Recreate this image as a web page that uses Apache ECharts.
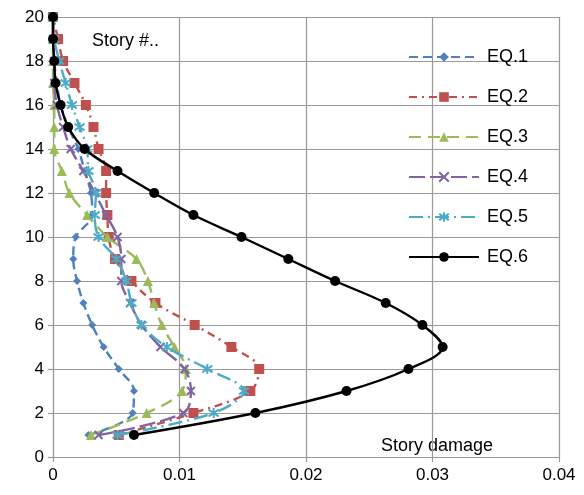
<!DOCTYPE html>
<html>
<head>
<meta charset="utf-8">
<script src="https://cdn.jsdelivr.net/npm/echarts@6/dist/echarts.min.js"></script>
<style>
  html, body { margin: 0; padding: 0; background: #fff; }
  #chart { width: 584px; height: 495px; }
</style>
</head>
<body>
<div id="chart"></div>
<script>
// story numbers, bottom to top
const stories = [1, 2, 3, 4, 5, 6, 7, 8, 9, 10, 11, 12, 13, 14, 15, 16, 17, 18, 19, 20];

// story damage per story
const eq1 = [0.0028, 0.0063, 0.0064, 0.0052, 0.0040, 0.0031, 0.0024, 0.0019, 0.0016, 0.0018,
             0.0031, 0.0030, 0.0025, 0.0020, 0.0012, 0.0006, 0.0003, 0.0001, 0, 0];
const eq2 = [0.0052, 0.0111, 0.0156, 0.0163, 0.0141, 0.0112, 0.0081, 0.0062, 0.0049, 0.0044,
             0.0043, 0.0042, 0.0042, 0.0036, 0.0032, 0.0026, 0.0017, 0.0008, 0.0004, 0];
const eq3 = [0.0030, 0.0074, 0.0102, 0.0105, 0.0096, 0.0086, 0.0080, 0.0075, 0.0066, 0.0043,
             0.0027, 0.0013, 0.0007, 0.0001, 0.0001, 0.0001, 0, 0, 0, 0];
const eq4 = [0.0036, 0.0103, 0.0109, 0.0104, 0.0085, 0.0070, 0.0061, 0.0054, 0.0054, 0.0051,
             0.0042, 0.0033, 0.0024, 0.0014, 0.0008, 0.0003, 0.0001, 0.0001, 0, 0];
const eq5 = [0.0051, 0.0127, 0.0151, 0.0122, 0.0090, 0.0070, 0.0062, 0.0058, 0.0050, 0.0036,
             0.0033, 0.0034, 0.0028, 0.0027, 0.0021, 0.0015, 0.0010, 0.0005, 0.0001, 0];
const eq6 = [0.0064, 0.0160, 0.0232, 0.0281, 0.0308, 0.0292, 0.0263, 0.0223, 0.0186, 0.0149,
             0.0111, 0.0080, 0.0051, 0.0025, 0.0012, 0.0006, 0.0002, 0.0001, 0, 0];

const seriesNames = ['EQ.1', 'EQ.2', 'EQ.3', 'EQ.4', 'EQ.5', 'EQ.6'];
const xTicks = [0, 0.01, 0.02, 0.03, 0.04];

const font = '"Liberation Sans", Arial, sans-serif';
const gridColor = '#999999';

const chart = echarts.init(document.getElementById('chart'), null, { renderer: 'canvas' });

const pairs = (vals) => vals.map((v, i) => [v, stories[i]]);

// Excel-ish look for each series
const styles = [
  { color: '#4F81BD', type: [9, 5], symbol: 'diamond', size: 8 },
  { color: '#C0504D', type: [8, 5, 2, 5], symbol: 'rect', size: 10 },
  { color: '#9BBB59', type: [12, 7], symbol: 'triangle', size: 10 },
  { color: '#8064A2', type: [16, 5], symbol: 'path://M0,0L10,10M10,0L0,10', size: 8, stroke: true },
  { color: '#4BACC6', type: [14, 5, 2, 5], symbol: 'path://M0,1L10,9M10,1L0,9M5,-1L5,11', size: 10, stroke: true },
  { color: '#000000', type: 'solid', symbol: 'circle', size: 10 },
];

const allData = [eq1, eq2, eq3, eq4, eq5, eq6];

const series = allData.map((vals, i) => {
  const s = styles[i];
  return {
    name: seriesNames[i],
    type: 'line',
    data: pairs(vals),
    smooth: 0.35,
    symbol: s.symbol,
    symbolSize: s.size,
    showAllSymbol: true,
    lineStyle: { color: s.color, width: 2.4, type: s.type },
    itemStyle: s.stroke
      ? { color: s.color, borderColor: s.color, borderWidth: 2 }
      : { color: s.color, borderWidth: 0 },
    emphasis: { disabled: true },
    z: 2 + i,
  };
});

const option = {
  animation: false,
  backgroundColor: '#ffffff',
  grid: { left: 53, right: 25, top: 17, bottom: 38, containLabel: false },
  xAxis: {
    type: 'value',
    min: 0,
    max: 0.04,
    interval: 0.01,
    axisLine: { show: true, lineStyle: { color: gridColor, width: 1.2 } },
    axisTick: { show: true, length: 5, lineStyle: { color: gridColor, width: 1.2 } },
    axisLabel: {
      color: '#000',
      fontFamily: font,
      fontSize: 17,
      margin: 10,
      formatter: (v) => {
        const t = xTicks.find((x) => Math.abs(x - v) < 1e-9);
        return t === undefined ? '' : String(t);
      },
    },
    splitLine: { show: true, lineStyle: { color: gridColor, width: 1.2 } },
  },
  yAxis: {
    type: 'value',
    min: 0,
    max: 20,
    interval: 2,
    axisLine: { show: true, onZero: false, lineStyle: { color: gridColor, width: 1.2 } },
    axisTick: { show: true, length: 5, lineStyle: { color: gridColor, width: 1.2 } },
    axisLabel: { color: '#000', fontFamily: font, fontSize: 17, margin: 9 },
    splitLine: { show: true, lineStyle: { color: gridColor, width: 1.2 } },
  },
  legend: {
    data: seriesNames,
    orient: 'vertical',
    left: 408,
    top: 47,
    padding: 0,
    itemWidth: 70,
    itemHeight: 12,
    itemGap: 20,
    textStyle: { color: '#000', fontFamily: font, fontSize: 18, lineHeight: 20, padding: [0, 0, 0, 3] },
  },
  graphic: [
    {
      type: 'text',
      left: 92,
      top: 32,
      style: { text: 'Story #..', fill: '#000', font: '18px ' + font },
    },
    {
      type: 'text',
      left: 381,
      top: 437,
      style: { text: 'Story damage', fill: '#000', font: '18px ' + font },
    },
  ],
  series: series,
};

chart.setOption(option);
</script>
</body>
</html>
